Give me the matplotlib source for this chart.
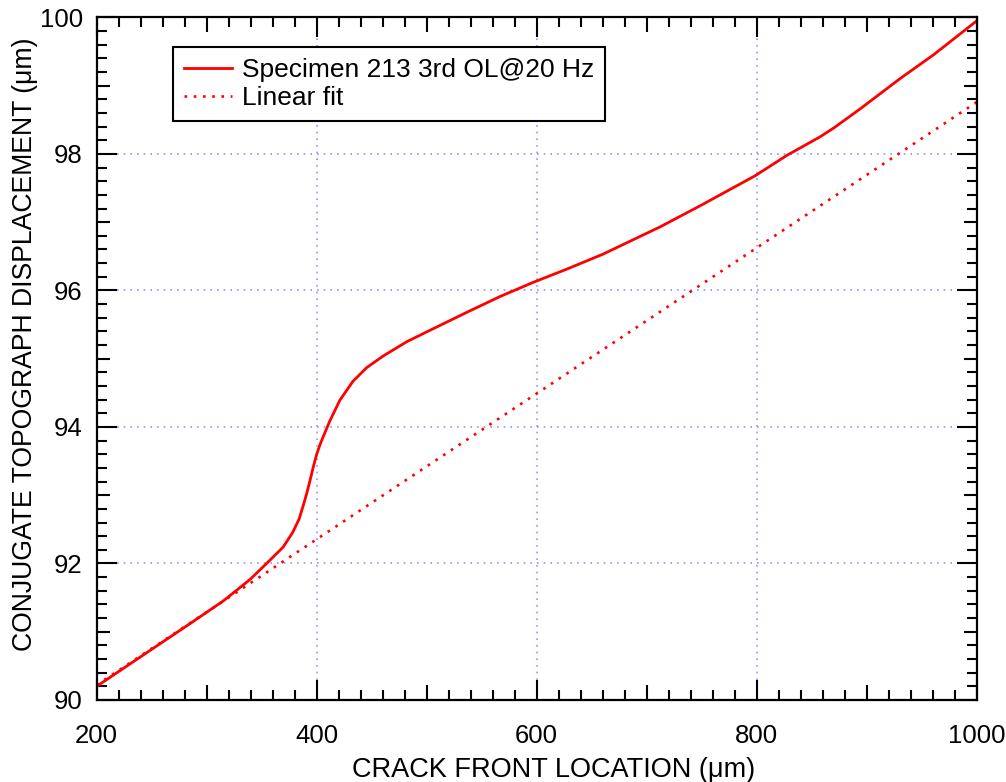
import matplotlib
matplotlib.use("Agg")
import matplotlib.pyplot as plt
from matplotlib.ticker import MultipleLocator

plt.rcParams['font.family'] = ['Liberation Sans', 'DejaVu Sans']

# crack front location (um) and displacement (um)
crack_x = [200, 224, 254.5, 285, 315, 339, 354.5, 369.5, 378, 384, 388, 391, 394,
           397, 400, 403, 406, 412, 421, 433, 445.5, 460.5, 482, 506, 536.5,
           566.5, 597, 627, 660, 712, 748.5, 798.5, 827.5, 857.5, 870, 894, 930,
           960.5, 1000]
disp_y = [90.20, 90.46, 90.79, 91.12, 91.45, 91.76, 92.00, 92.24, 92.45, 92.65,
          92.86, 93.03, 93.22, 93.42, 93.60, 93.74, 93.86, 94.09, 94.39, 94.67,
          94.87, 95.04, 95.25, 95.44, 95.68, 95.91, 96.12, 96.31, 96.53, 96.93,
          97.24, 97.68, 97.98, 98.25, 98.38, 98.66, 99.10, 99.45, 99.95]

fit_x = [200, 1000]
fit_y = [90.22, 98.76]

series_label = "Specimen 213 3rd OL@20 Hz"
fit_label = "Linear fit"

fig = plt.figure(figsize=(10.06, 7.82), dpi=100)
ax = fig.add_axes([0.0961, 0.1049, 0.8748, 0.8728])

ax.plot(crack_x, disp_y, color='#ff0000', lw=2.0, label=series_label)
ax.plot(fit_x, fit_y, color='#ff0000', lw=1.9, ls=(0, (1, 2.5)), label=fit_label)

ax.set_xlim(200, 1000)
ax.set_ylim(90, 100)
ax.xaxis.set_major_locator(MultipleLocator(200))
ax.xaxis.set_minor_locator(MultipleLocator(20))
ax.yaxis.set_major_locator(MultipleLocator(2))
ax.yaxis.set_minor_locator(MultipleLocator(0.2))

ax.grid(True, which='major', color='#9494ff', ls=(0, (1, 3)), lw=1.2)

ax.tick_params(which='both', direction='in', top=True, right=True, width=1.5,
               labelsize=18.5)
ax.tick_params(axis='x', pad=17)
ax.tick_params(axis='y', pad=10)
ax.tick_params(which='major', length=14.5)
ax.tick_params(which='minor', length=7.5)

fig.canvas.draw()
# medium ticks halfway between the majors
for t in ax.xaxis.get_minor_ticks():
    if abs((t.get_loc() - 100) % 200) < 1e-6:
        t.tick1line.set_markersize(10.5)
        t.tick2line.set_markersize(10.5)
for t in ax.yaxis.get_minor_ticks():
    r = (t.get_loc() - 1) % 2
    if r < 1e-6 or abs(r - 2) < 1e-6:
        t.tick1line.set_markersize(9.5)
        t.tick2line.set_markersize(9.5)

for s in ax.spines.values():
    s.set_linewidth(1.6)

ax.set_xlabel("CRACK FRONT LOCATION (\u03bcm)", fontsize=19.5)
ax.set_ylabel("CONJUGATE TOPOGRAPH DISPLACEMENT (\u03bcm)", fontsize=19.2)
ax.xaxis.set_label_coords(0.5197, -0.084)
ax.yaxis.set_label_coords(-0.0667, 0.521)

leg = ax.legend(loc='upper left', bbox_to_anchor=(0.0864, 0.956), fontsize=19,
                fancybox=False, framealpha=1, edgecolor='black',
                handlelength=1.85, borderpad=0.41, labelspacing=0.15,
                handletextpad=0.35, borderaxespad=0)
leg.get_frame().set_linewidth(1.5)

fig.savefig("out.png", dpi=100)
